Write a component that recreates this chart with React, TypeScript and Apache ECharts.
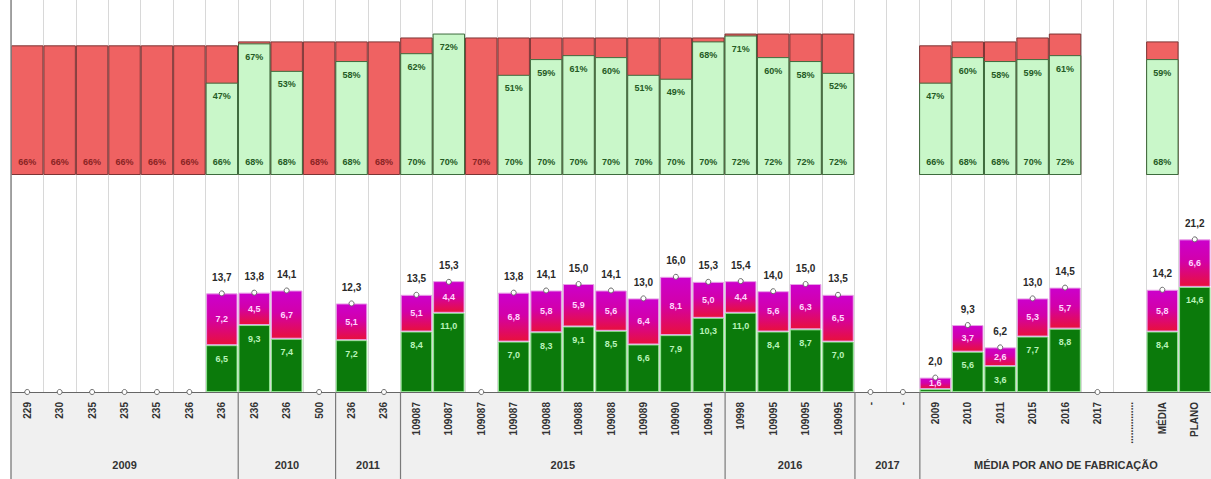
import React, { useEffect, useRef } from "react";
import * as echarts from "echarts";

// Column labels along the axis
const categories = [
  "229", "230", "235", "235", "235", "236", "236",
  "236", "236", "500",
  "236", "236",
  "109087", "109087", "109087", "109087", "109088", "109088", "109088", "109089", "109090", "109091",
  "10998", "109095", "109095", "109095",
  "-", "-",
  "2009", "2010", "2011", "2015", "2016", "2017", "...............", "MÉDIA", "PLANO",
];

// Group row under the column labels: [label, number of columns]
const groups: [string, number][] = [
  ["2009", 7],
  ["2010", 3],
  ["2011", 2],
  ["2015", 10],
  ["2016", 4],
  ["2017", 2],
  ["MÉDIA POR ANO DE FABRICAÇÃO", 9],
];

// Upper panel: target (%) and achieved (%)
const targetPct = [
  66, 66, 66, 66, 66, 66, 66,
  68, 68, 68,
  68, 68,
  70, 70, 70, 70, 70, 70, 70, 70, 70, 70,
  72, 72, 72, 72,
  null, null,
  66, 68, 68, 70, 72, null, null, 68, null,
];
const actualPct = [
  null, null, null, null, null, null, 47,
  67, 53, null,
  58, null,
  62, 72, null, 51, 59, 61, 60, 51, 49, 68,
  71, 60, 58, 52,
  null, null,
  47, 60, 58, 59, 61, null, null, 59, null,
];

// Lower panel: stacked parts and totals
const partA = [
  null, null, null, null, null, null, 6.5,
  9.3, 7.4, null,
  7.2, null,
  8.4, 11.0, null, 7.0, 8.3, 9.1, 8.5, 6.6, 7.9, 10.3,
  11.0, 8.4, 8.7, 7.0,
  null, null,
  0.4, 5.6, 3.6, 7.7, 8.8, null, null, 8.4, 14.6,
];
const partB = [
  null, null, null, null, null, null, 7.2,
  4.5, 6.7, null,
  5.1, null,
  5.1, 4.4, null, 6.8, 5.8, 5.9, 5.6, 6.4, 8.1, 5.0,
  4.4, 5.6, 6.3, 6.5,
  null, null,
  1.6, 3.7, 2.6, 5.3, 5.7, null, null, 5.8, 6.6,
];
const totals = [
  0, 0, 0, 0, 0, 0, 13.7,
  13.8, 14.1, 0,
  12.3, 0,
  13.5, 15.3, 0, 13.8, 14.1, 15.0, 14.1, 13.0, 16.0, 15.3,
  15.4, 14.0, 15.0, 13.5,
  0, 0,
  2.0, 9.3, 6.2, 13.0, 14.5, 0, null, 14.2, 21.2,
];

const FONT = "'Liberation Sans', Arial, sans-serif";
const GRID_LEFT = 11;
const GRID_WIDTH = 1201;
const BASE_Y = 392;

const fmt = (v: number) => v.toFixed(1).replace(".", ",");

export default function App() {
  const ref = useRef<HTMLDivElement>(null);

  useEffect(() => {
    if (!ref.current) return;
    const chart = echarts.init(ref.current, undefined, { renderer: "svg" });

    const colW = GRID_WIDTH / categories.length;

    // group row: background, separators and labels
    const graphic: any[] = [
      {
        type: "rect",
        z: -10,
        shape: { x: GRID_LEFT, y: BASE_Y, width: GRID_WIDTH, height: 479 - BASE_Y },
        style: { fill: "#f0f0f0" },
      },
      {
        type: "line",
        z: 10,
        shape: { x1: GRID_LEFT, y1: 0, x2: GRID_LEFT, y2: 479 },
        style: { stroke: "#8a8a8a", lineWidth: 1.5 },
      },
    ];
    let acc = 0;
    groups.forEach(([name, n], i) => {
      const x0 = GRID_LEFT + acc * colW;
      acc += n;
      const x1 = GRID_LEFT + acc * colW;
      graphic.push({
        type: "text",
        z: 10,
        x: (x0 + x1) / 2,
        y: 465,
        style: {
          text: name,
          fill: "#333",
          font: `bold 11px ${FONT}`,
          align: "center",
          verticalAlign: "middle",
        },
      });
      if (i < groups.length - 1) {
        graphic.push({
          type: "line",
          z: 10,
          shape: { x1: x1, y1: BASE_Y, x2: x1, y2: 479 },
          style: { stroke: "#7a7a7a", lineWidth: 1.2 },
        });
      }
    });

    const targetData = targetPct.map((v, i) =>
      v == null
        ? null
        : {
            value: v,
            label: { color: actualPct[i] == null ? "#8a2424" : "#245a24" },
          }
    );

    const option: any = {
      animation: false,
      grid: [
        { left: GRID_LEFT, width: GRID_WIDTH, top: 8, height: 167 },
        { left: GRID_LEFT, width: GRID_WIDTH, top: 212, height: BASE_Y - 212 },
        { left: GRID_LEFT, width: GRID_WIDTH, top: 0, height: BASE_Y },
      ],
      xAxis: [
        { type: "category", gridIndex: 0, data: categories, show: false },
        {
          type: "category",
          gridIndex: 1,
          data: categories,
          axisLine: { show: true, lineStyle: { color: "#666", width: 1.2 } },
          axisTick: { show: false },
          axisLabel: {
            interval: 0,
            rotate: 90,
            fontSize: 10,
            fontWeight: "bold",
            fontFamily: FONT,
            color: "#333",
            margin: 10,
          },
          z: 5,
        },
        {
          type: "category",
          gridIndex: 2,
          data: categories,
          axisLine: { show: false },
          axisTick: { show: false },
          axisLabel: { show: false },
          splitLine: { show: true, interval: 0, lineStyle: { color: "#d8d8d8", width: 1 } },
        },
      ],
      yAxis: [
        { type: "value", gridIndex: 0, min: 0, max: 85, show: false },
        { type: "value", gridIndex: 1, min: 0, max: 25, show: false },
        { type: "value", gridIndex: 2, min: 0, max: 1, show: false },
      ],
      graphic,
      series: [
        {
          name: "Meta",
          type: "bar",
          xAxisIndex: 0,
          yAxisIndex: 0,
          data: targetData,
          barCategoryGap: "0%",
          barGap: "-100%",
          itemStyle: { color: "#ef6262", borderColor: "#7d3434", borderWidth: 1 },
          label: {
            show: true,
            position: "insideBottom",
            distance: 9,
            fontSize: 9,
            fontWeight: "bold",
            fontFamily: FONT,
            formatter: (p: any) => `${p.value}%`,
          },
          z: 3,
        },
        {
          name: "Realizado",
          type: "bar",
          xAxisIndex: 0,
          yAxisIndex: 0,
          data: actualPct,
          barCategoryGap: "0%",
          barGap: "-100%",
          itemStyle: { color: "#c9f7c9", borderColor: "#3d6b3d", borderWidth: 1 },
          label: {
            show: true,
            position: "insideTop",
            distance: 9,
            fontSize: 9,
            fontWeight: "bold",
            fontFamily: FONT,
            color: "#245a24",
            formatter: (p: any) => `${p.value}%`,
          },
          z: 3,
        },
        {
          name: "A",
          type: "bar",
          xAxisIndex: 1,
          yAxisIndex: 1,
          stack: "tot",
          data: partA,
          barCategoryGap: "3%",
          itemStyle: { color: "#0b7a0b", borderColor: "#8fe38f", borderWidth: 1 },
          label: {
            show: true,
            position: "insideTop",
            distance: 9,
            fontSize: 9,
            fontWeight: "bold",
            fontFamily: FONT,
            color: "#b9f3b9",
            formatter: (p: any) => (p.value >= 1 ? fmt(p.value) : ""),
          },
          z: 3,
        },
        {
          name: "B",
          type: "bar",
          xAxisIndex: 1,
          yAxisIndex: 1,
          stack: "tot",
          data: partB,
          barCategoryGap: "3%",
          itemStyle: {
            color: new echarts.graphic.LinearGradient(0, 0, 0, 1, [
              { offset: 0, color: "#cc00cc" },
              { offset: 0.45, color: "#d200aa" },
              { offset: 1, color: "#e8103c" },
            ]),
            borderColor: "#e8a0e8",
            borderWidth: 1,
          },
          label: {
            show: true,
            position: "inside",
            fontSize: 9,
            fontWeight: "bold",
            fontFamily: FONT,
            color: "#ffd6ff",
            formatter: (p: any) => fmt(p.value),
          },
          z: 3,
        },
        {
          name: "Total",
          type: "line",
          xAxisIndex: 1,
          yAxisIndex: 1,
          data: totals,
          symbol: "circle",
          symbolSize: 5,
          showAllSymbol: true,
          lineStyle: { width: 0, opacity: 0 },
          itemStyle: { color: "#ffffff", borderColor: "#6a6a6a", borderWidth: 1 },
          label: {
            show: true,
            position: "top",
            distance: 8,
            fontSize: 10,
            fontWeight: "bold",
            fontFamily: FONT,
            color: "#2a2a2a",
            formatter: (p: any) => (p.value > 0 ? fmt(p.value) : ""),
          },
          z: 6,
        },
      ],
    };

    chart.setOption(option);
    return () => chart.dispose();
  }, []);

  return (
    <div
      ref={ref}
      style={{ position: "absolute", left: 0, top: 0, width: 1211, height: 479, background: "#fff" }}
    />
  );
}
